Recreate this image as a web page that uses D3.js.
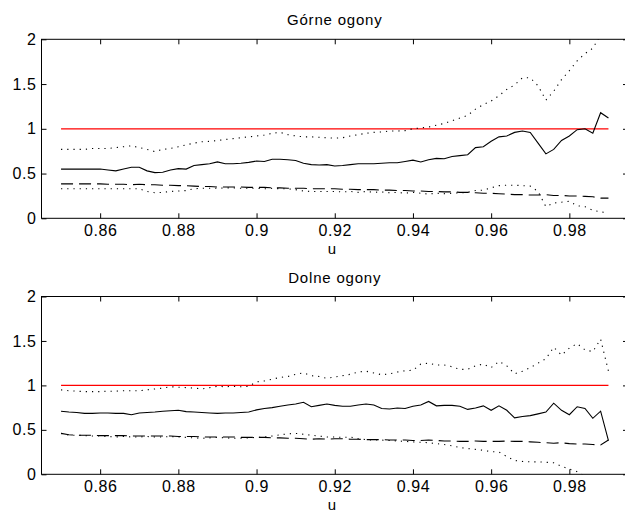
<!DOCTYPE html>
<html>
<head>
<meta charset="utf-8">
<script src="https://cdn.jsdelivr.net/npm/d3@7"></script>
<style>
  html, body { margin: 0; padding: 0; background: #fff; }
  svg { display: block; }
  text { font-family: "Liberation Sans", Arial, sans-serif; fill: #000; }
</style>
</head>
<body>
<svg id="chart" width="625" height="515"></svg>
<script>
// ---- data ----
const u = [0.850,0.852,0.854,0.856,0.858,0.860,0.862,0.864,0.866,0.868,
           0.870,0.872,0.874,0.876,0.878,0.880,0.882,0.884,0.886,0.888,
           0.890,0.892,0.894,0.896,0.898,0.900,0.902,0.904,0.906,0.908,
           0.910,0.912,0.914,0.916,0.918,0.920,0.922,0.924,0.926,0.928,
           0.930,0.932,0.934,0.936,0.938,0.940,0.942,0.944,0.946,0.948,
           0.950,0.952,0.954,0.956,0.958,0.960,0.962,0.964,0.966,0.968,
           0.970,0.972,0.974,0.976,0.978,0.980,0.982,0.984,0.986,0.988,0.990];

// Górne ogony (upper tails)
const upperEst = [0.55,0.55,0.55,0.55,0.55,0.55,0.54,0.53,0.55,0.57,
                  0.57,0.53,0.51,0.515,0.54,0.555,0.55,0.59,0.60,0.61,
                  0.63,0.61,0.61,0.615,0.625,0.64,0.635,0.66,0.66,0.655,
                  0.645,0.615,0.60,0.595,0.60,0.585,0.59,0.60,0.61,0.61,
                  0.61,0.615,0.62,0.62,0.635,0.65,0.63,0.655,0.67,0.665,
                  0.69,0.70,0.71,0.79,0.80,0.86,0.91,0.92,0.96,0.975,
                  0.96,0.84,0.72,0.77,0.87,0.92,0.99,1.0,0.95,1.18,1.12];
const upperHi = [0.77,0.77,0.77,0.77,0.78,0.78,0.78,0.79,0.80,0.81,
                 0.79,0.77,0.745,0.77,0.78,0.80,0.82,0.84,0.855,0.86,
                 0.87,0.88,0.89,0.90,0.91,0.92,0.93,0.95,0.96,0.935,
                 0.92,0.91,0.91,0.905,0.90,0.895,0.90,0.92,0.935,0.95,
                 0.96,0.965,0.975,0.975,0.98,1.0,1.01,1.02,1.04,1.06,
                 1.09,1.12,1.15,1.22,1.27,1.31,1.37,1.44,1.49,1.57,
                 1.57,1.48,1.32,1.42,1.55,1.65,1.76,1.84,1.90,2.05,2.15];
const upperLo = [0.33,0.33,0.33,0.33,0.33,0.33,0.33,0.33,0.33,0.33,
                 0.33,0.30,0.285,0.29,0.30,0.305,0.31,0.33,0.335,0.335,
                 0.335,0.34,0.34,0.335,0.335,0.335,0.33,0.335,0.33,0.33,
                 0.32,0.305,0.30,0.30,0.30,0.30,0.295,0.30,0.29,0.30,
                 0.29,0.295,0.285,0.29,0.28,0.29,0.28,0.27,0.28,0.275,
                 0.28,0.285,0.29,0.31,0.315,0.34,0.365,0.37,0.37,0.365,
                 0.36,0.30,0.13,0.17,0.18,0.19,0.14,0.13,0.09,0.07,0.065];
const upperRef = [0.385,0.385,0.385,0.385,0.385,0.385,0.38,0.38,0.38,0.375,
                  0.38,0.375,0.375,0.37,0.37,0.365,0.365,0.36,0.355,0.355,
                  0.35,0.35,0.35,0.35,0.345,0.345,0.345,0.34,0.34,0.335,
                  0.335,0.335,0.33,0.33,0.33,0.33,0.325,0.325,0.32,0.32,
                  0.32,0.315,0.315,0.31,0.31,0.305,0.305,0.30,0.30,0.295,
                  0.295,0.29,0.29,0.285,0.28,0.28,0.275,0.27,0.265,0.265,
                  0.26,0.26,0.265,0.255,0.255,0.25,0.25,0.245,0.24,0.225,0.225];

// Dolne ogony (lower tails)
const lowerEst = [0.71,0.70,0.695,0.685,0.685,0.69,0.69,0.685,0.685,0.67,
                  0.69,0.695,0.70,0.71,0.715,0.72,0.705,0.70,0.695,0.69,
                  0.685,0.69,0.69,0.695,0.70,0.725,0.74,0.75,0.765,0.78,
                  0.79,0.81,0.76,0.775,0.79,0.775,0.765,0.765,0.78,0.79,
                  0.78,0.74,0.735,0.745,0.74,0.765,0.78,0.82,0.77,0.775,
                  0.775,0.765,0.73,0.745,0.77,0.72,0.77,0.72,0.635,0.65,
                  0.66,0.68,0.70,0.80,0.72,0.67,0.76,0.74,0.63,0.71,0.38];
const lowerHi = [0.95,0.94,0.935,0.93,0.93,0.93,0.935,0.935,0.94,0.94,
                 0.94,0.95,0.96,0.97,0.985,0.98,0.975,0.97,0.96,0.975,
                 0.99,0.985,0.99,0.985,0.99,1.04,1.05,1.07,1.09,1.10,
                 1.125,1.14,1.11,1.10,1.08,1.095,1.11,1.125,1.15,1.16,
                 1.14,1.12,1.13,1.15,1.165,1.17,1.24,1.25,1.23,1.23,
                 1.21,1.18,1.18,1.22,1.24,1.20,1.27,1.22,1.13,1.16,
                 1.20,1.25,1.30,1.43,1.34,1.42,1.47,1.40,1.38,1.52,1.16];
const lowerLo = [0.46,0.44,0.44,0.435,0.43,0.43,0.425,0.42,0.425,0.42,
                 0.42,0.425,0.42,0.42,0.425,0.42,0.415,0.41,0.405,0.41,
                 0.415,0.41,0.405,0.405,0.41,0.415,0.42,0.43,0.445,0.455,
                 0.46,0.45,0.44,0.43,0.42,0.42,0.415,0.42,0.40,0.39,
                 0.385,0.385,0.38,0.375,0.37,0.365,0.36,0.355,0.345,0.335,
                 0.32,0.30,0.29,0.28,0.27,0.255,0.25,0.20,0.155,0.145,
                 0.14,0.14,0.135,0.13,0.09,0.06,0.03,-0.02,-0.06,-0.10,-0.12];
const lowerRef = [0.46,0.445,0.44,0.44,0.44,0.435,0.435,0.435,0.435,0.43,
                  0.43,0.43,0.43,0.43,0.43,0.425,0.425,0.425,0.42,0.42,
                  0.42,0.42,0.42,0.415,0.415,0.415,0.415,0.41,0.41,0.405,
                  0.405,0.40,0.395,0.40,0.395,0.40,0.40,0.395,0.395,0.39,
                  0.39,0.39,0.385,0.385,0.385,0.38,0.38,0.385,0.38,0.375,
                  0.375,0.37,0.37,0.375,0.37,0.37,0.37,0.375,0.37,0.37,
                  0.365,0.36,0.355,0.35,0.355,0.345,0.34,0.34,0.335,0.33,0.385];

const refLevel = [1, 1];
const refU = [0.85, 0.99];

const xTicks = [0.86, 0.88, 0.90, 0.92, 0.94, 0.96, 0.98];
const xTickLabels = ["0.86", "0.88", "0.9", "0.92", "0.94", "0.96", "0.98"];
const yTicks = [0, 0.5, 1, 1.5, 2];
const yTickLabels = ["0", "0.5", "1", "1.5", "2"];

const titles = ["Górne ogony", "Dolne ogony"];
const xLabel = "u";

// ---- drawing ----
const svg = d3.select("#chart");
const panels = [
  { title: titles[0], top: 39.3, bottom: 218.3, est: upperEst, hi: upperHi, lo: upperLo, ref: upperRef },
  { title: titles[1], top: 296.5, bottom: 474.3, est: lowerEst, hi: lowerHi, lo: lowerLo, ref: lowerRef }
];
const x = d3.scaleLinear().domain([0.845, 0.995]).range([41.5, 628]);
const tickFont = "Liberation Sans, Arial, sans-serif";

panels.forEach((p, i) => {
  const y = d3.scaleLinear().domain([0, 2]).range([p.bottom, p.top]);
  const g = svg.append("g");
  const clipId = "clip" + i;
  svg.append("clipPath").attr("id", clipId)
    .append("rect").attr("x", x.range()[0]).attr("y", p.top)
    .attr("width", x.range()[1] - x.range()[0]).attr("height", p.bottom - p.top);

  const line = d3.line().x((d, k) => x(u[k])).y(d => y(d));
  const plot = g.append("g").attr("clip-path", `url(#${clipId})`);

  plot.append("path").datum(refLevel)
    .attr("d", d3.line().x((d, k) => x(refU[k])).y(d => y(d)))
    .attr("fill", "none").attr("stroke", "#ff0000").attr("stroke-width", 1.3);
  plot.append("path").datum(p.hi).attr("d", line)
    .attr("fill", "none").attr("stroke", "#000").attr("stroke-width", 1.1)
    .attr("stroke-dasharray", "1.2,5");
  plot.append("path").datum(p.lo).attr("d", line)
    .attr("fill", "none").attr("stroke", "#000").attr("stroke-width", 1.1)
    .attr("stroke-dasharray", "1.2,5");
  plot.append("path").datum(p.ref).attr("d", line)
    .attr("fill", "none").attr("stroke", "#000").attr("stroke-width", 1.1)
    .attr("stroke-dasharray", "12,6");
  plot.append("path").datum(p.est).attr("d", line)
    .attr("fill", "none").attr("stroke", "#000").attr("stroke-width", 1.1);

  // axes (MATLAB style: box, ticks inward on all sides)
  const tickLen = 5;
  const bottomAxis = d3.axisBottom(x).tickValues(xTicks).tickSizeInner(-tickLen).tickSizeOuter(0)
    .tickPadding(6).tickFormat((d, k) => xTickLabels[k]);
  const topAxis = d3.axisTop(x).tickValues(xTicks).tickSizeInner(-tickLen).tickSizeOuter(0).tickFormat("");
  const leftAxis = d3.axisLeft(y).tickValues(yTicks).tickSizeInner(-tickLen).tickSizeOuter(0)
    .tickPadding(5).tickFormat((d, k) => yTickLabels[k]);
  const rightAxis = d3.axisRight(y).tickValues(yTicks).tickSizeInner(-tickLen).tickSizeOuter(0).tickFormat("");

  const gb = g.append("g").attr("transform", `translate(0,${p.bottom})`).call(bottomAxis);
  const gt = g.append("g").attr("transform", `translate(0,${p.top})`).call(topAxis);
  const gl = g.append("g").attr("transform", `translate(${x.range()[0]},0)`).call(leftAxis);
  const gr = g.append("g").attr("transform", `translate(${x.range()[1]},0)`).call(rightAxis);
  [gb, gt, gl, gr].forEach(a => {
    a.selectAll("path.domain").remove();
    a.selectAll("line").attr("stroke", "#000");
    a.selectAll("text").attr("font-size", 16).attr("font-family", tickFont)
      .attr("letter-spacing", 0.6).attr("fill", "#000");
  });
  g.append("rect").attr("x", x.range()[0]).attr("y", p.top)
    .attr("width", x.range()[1] - x.range()[0]).attr("height", p.bottom - p.top)
    .attr("fill", "none").attr("stroke", "#000").attr("stroke-width", 1);

  g.append("text").attr("x", (x.range()[0] + x.range()[1]) / 2).attr("y", p.top - 14)
    .attr("text-anchor", "middle").attr("font-size", 15).attr("letter-spacing", 0.8).text(p.title);
  g.append("text").attr("x", 332).attr("y", p.bottom + 36)
    .attr("text-anchor", "middle").attr("font-size", 15).text(xLabel);
});
</script>
</body>
</html>
